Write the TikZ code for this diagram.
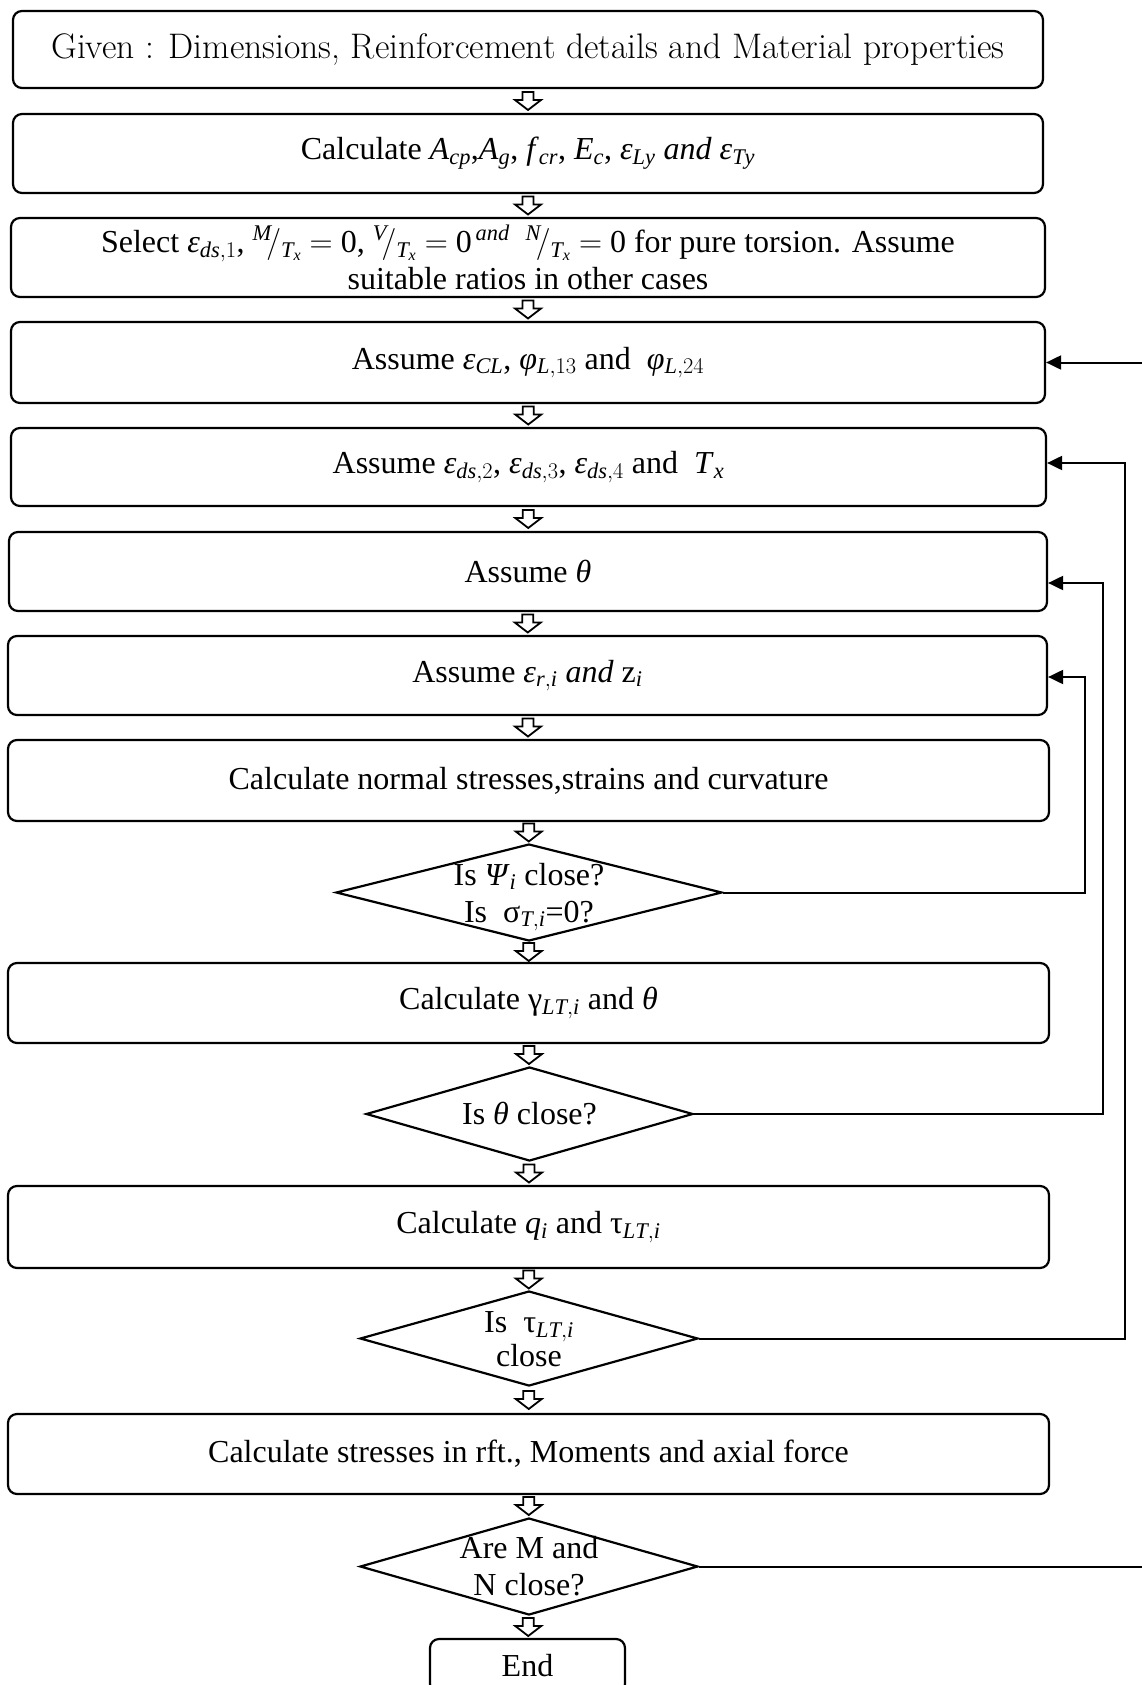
\documentclass[tikz,border=0pt]{standalone}
\usepackage{fix-cm}
\usepackage{fontspec}
\setmainfont{Liberation Serif}
\newfontfamily\lmfont{Latin Modern Roman}
\usetikzlibrary{shapes.geometric,arrows.meta,calc}
\tikzset{
  every node/.style={font=\fontsize{32}{36}\selectfont},
  box/.style={draw, line width=2.2pt, rounded corners=9pt, inner sep=0pt, align=center},
  dia/.style={draw, diamond, line width=2.2pt, inner sep=0pt},
  dtext/.style={align=center, inner sep=0pt},
  fb/.style={line width=2pt, -{Triangle[length=15pt,width=14pt]}},
  harrow/.pic={\draw[line width=1.8pt, line join=miter, fill=white]
     (-5.5,-9) -- (-5.5,-1) -- (-13,-1) -- (0,9) -- (13,-1) -- (5.5,-1) -- (5.5,-9) -- cycle;}
}
\newcommand\ti[1]{\textit{#1}}
\newcommand\mi[1]{\mathit{#1}}
\newcommand\slf[1]{\smash{${}^{\mi{#1}}\!\big/{}_{\mi{T}_{\mi{x}}}$}}
\begin{document}
\begin{tikzpicture}[x=1pt,y=-1pt]
\useasboundingbox (0,0) rectangle (1142,1685);

\node[box, minimum width=1030pt, minimum height=77pt] (b1) at (528,49.5)
  {\fontsize{35.5}{40}\selectfont\lmfont Given : Dimensions, Reinforcement details and Material properties};
\node[box, minimum width=1030pt, minimum height=79pt] (b2) at (528,153.5)
  {Calculate \ti{A}$_{\mi{cp}}$,\ti{A}$_{\mi{g}}$, \ti{f}$_{\mi{cr}}$, \ti{E}$_{\mi{c}}$, \ti{ε}$_{\mi{Ly}}$ \ti{and} \ti{ε}$_{\mi{Ty}}$};
\node[box, minimum width=1034pt, minimum height=79pt] (b3) at (528,257.5)
  {Select \ti{ε}$_{\mi{ds},1}$,\ \slf{M} $=$ 0, \slf{V} $=$ 0$^{\,\mi{and}}$\ \ \slf{N} $=$ 0 for pure torsion. Assume\\[1pt] suitable ratios in other cases};
\node[box, minimum width=1034pt, minimum height=81pt] (b4) at (528,362.5)
  {Assume \ti{ε}$_{\mi{CL}}$, \ti{φ}$_{\mi{L},13}$ and\ \ \ti{φ}$_{\mi{L},24}$};
\node[box, minimum width=1035pt, minimum height=78pt] (b5) at (528.5,467)
  {Assume \ti{ε}$_{\mi{ds},2}$, \ti{ε}$_{\mi{ds},3}$, \ti{ε}$_{\mi{ds},4}$ and\ \ \ti{T}$_{\mi{x}}$};
\node[box, minimum width=1038pt, minimum height=79pt] (b6) at (528,571.5)
  {Assume \ti{θ}};
\node[box, minimum width=1039pt, minimum height=79pt] (b7) at (527.5,675.5)
  {Assume \ti{ε}$_{\mi{r},\mi{i}}$ \ti{and} z$_{\mi{i}}$};
\node[box, minimum width=1041pt, minimum height=81pt] (b8) at (528.5,780.5)
  {Calculate normal stresses,strains and curvature};
\node[dia, minimum width=386pt, minimum height=97pt] (d1) at (529,892.5) {};
\node[dtext] (d1t) at (529,897) {Is \ti{Ψ}$_{\mi{i}}$ close?\\[1pt]Is\ \ σ$_{\mi{T},\mi{i}}$=0?};
\node[box, minimum width=1041pt, minimum height=80pt] (b9) at (528.5,1003)
  {Calculate γ$_{\mi{LT},\mi{i}}$ and \ti{θ}};
\node[dia, minimum width=327pt, minimum height=94pt] (d2) at (529.5,1114) {};
\node[dtext] (d2t) at (d2) {Is \ti{θ} close?};
\node[box, minimum width=1041pt, minimum height=82pt] (b10) at (528.5,1227)
  {Calculate \ti{q}$_{\mi{i}}$ and τ$_{\mi{LT},\mi{i}}$};
\node[dia, minimum width=338pt, minimum height=95pt] (d3) at (529,1338.5) {};
\node[dtext] (d3t) at (529,1339) {Is\ \ τ$_{\mi{LT},\mi{i}}$\\[-2pt]close};
\node[box, minimum width=1041pt, minimum height=80pt] (b11) at (528.5,1454)
  {Calculate stresses in rft., Moments and axial force};
\node[dia, minimum width=338pt, minimum height=97pt] (d4) at (529,1566.5) {};
\node[dtext] (d4t) at (529,1566) {Are M and\\[1pt]N close?};
\node[box, minimum width=195pt, minimum height=54pt] (end) at (527.5,1666) {End};

% hollow flow arrows
\pic at ($(b1.south)!0.5!(b2.north)$) {harrow};
\pic at ($(b2.south)!0.5!(b3.north)$) {harrow};
\pic at ($(b3.south)!0.5!(b4.north)$) {harrow};
\pic at ($(b4.south)!0.5!(b5.north)$) {harrow};
\pic at ($(b5.south)!0.5!(b6.north)$) {harrow};
\pic at ($(b6.south)!0.5!(b7.north)$) {harrow};
\pic at ($(b7.south)!0.5!(b8.north)$) {harrow};
\pic at ($(b8.south)!0.5!(d1.north)$) {harrow};
\pic at ($(d1.south)!0.5!(b9.north)$) {harrow};
\pic at ($(b9.south)!0.5!(d2.north)$) {harrow};
\pic at ($(d2.south)!0.5!(b10.north)$) {harrow};
\pic at ($(b10.south)!0.5!(d3.north)$) {harrow};
\pic at ($(d3.south)!0.5!(b11.north)$) {harrow};
\pic at ($(b11.south)!0.5!(d4.north)$) {harrow};
\pic at ($(d4.south)!0.5!(end.north)$) {harrow};

% feedback loops
\coordinate (r1) at (1085,0);
\coordinate (r2) at (1103,0);
\coordinate (r3) at (1125,0);
\coordinate (r4) at (1165,0);
\draw[fb] (d1.east) -- (d1.east -| r1) |- ([yshift=-1.5pt]b7.east);
\draw[fb] (d2.east) -- (d2.east -| r2) |- ([yshift=-11.5pt]b6.east);
\draw[fb] (d3.east) -- (d3.east -| r3) |- ([yshift=4pt]b5.east);
\draw[fb] (d4.east) -- (d4.east -| r4) |- (b4.east);
\end{tikzpicture}
\end{document}
